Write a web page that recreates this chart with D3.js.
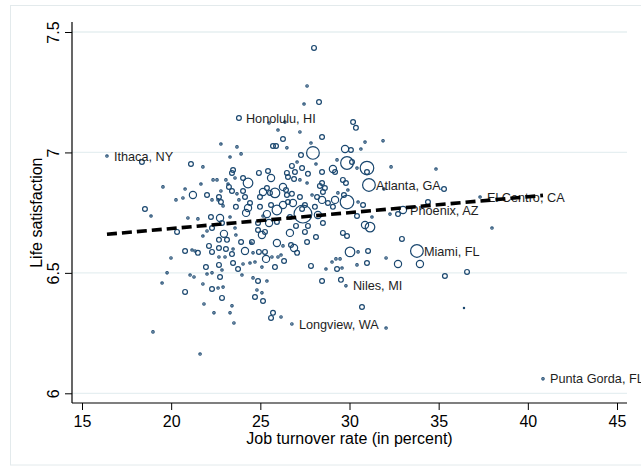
<!DOCTYPE html>
<html>
<head>
<meta charset="utf-8">
<script src="https://cdn.jsdelivr.net/npm/d3@7"></script>
<style>
  html, body { margin: 0; padding: 0; background: #fff; }
  svg { display: block; font-family: "Liberation Sans", Arial, Helvetica, sans-serif; }
</style>
</head>
<body>
<svg id="chart" width="641" height="466"></svg>
<script>
// Metro areas: [job turnover rate %, mean life satisfaction, population weight, optional label]
const metros = [
  [28.01, 7.434, 4], [27.62, 7.276, 1], [27.45, 7.201, 1], [28.29, 7.209, 4],
  [23.80, 7.143, 4, "Honolulu, HI"], [25.49, 7.122, 1], [26.38, 7.126, 1], [25.99, 7.093, 1],
  [27.22, 7.085, 1], [30.20, 7.126, 4], [30.36, 7.102, 4], [26.27, 7.056, 4],
  [25.71, 7.027, 4], [25.88, 7.027, 4], [26.49, 7.019, 1], [27.84, 7.039, 1],
  [28.46, 7.064, 4], [22.79, 7.035, 1], [23.69, 7.023, 1], [23.92, 6.994, 1],
  [23.30, 6.981, 1], [16.40, 6.985, 1, "Ithaca, NY"], [18.36, 6.960, 4], [21.11, 6.952, 4],
  [27.95, 6.998, 28], [27.28, 6.989, 4], [29.75, 7.014, 9], [30.08, 7.010, 4],
  [30.64, 7.014, 1], [30.87, 7.043, 1], [31.88, 7.048, 1],

  [21.78, 6.940, 1], [23.47, 6.927, 4], [23.41, 6.915, 4], [24.92, 6.915, 4],
  [25.43, 6.923, 4], [25.60, 6.894, 9], [24.31, 6.873, 16], [23.58, 6.894, 1],
  [22.35, 6.886, 1], [22.57, 6.886, 1], [23.07, 6.886, 1], [23.19, 6.869, 1],
  [23.24, 6.857, 4], [23.41, 6.840, 4], [24.03, 6.840, 4], [21.67, 6.869, 1],
  [20.78, 6.848, 1], [19.54, 6.857, 1], [21.22, 6.823, 9], [22.01, 6.823, 4],
  [22.79, 6.840, 1], [22.68, 6.815, 4], [22.63, 6.803, 1], [22.29, 6.803, 1],
  [20.66, 6.811, 1], [20.27, 6.803, 1], [22.79, 6.794, 4], [23.69, 6.828, 1],
  [24.14, 6.815, 4], [24.42, 6.790, 4], [23.80, 6.803, 1], [23.63, 6.774, 4],
  [24.31, 6.769, 9], [22.91, 6.778, 1], [24.98, 6.815, 4], [25.15, 6.836, 9],
  [25.54, 6.832, 4], [25.82, 6.832, 16], [25.37, 6.852, 4], [24.98, 6.774, 4],
  [25.60, 6.782, 4], [24.03, 6.894, 4], [18.53, 6.765, 4], [18.87, 6.736, 1],
  [25.93, 6.761, 16],

  [29.30, 6.969, 1], [29.86, 6.956, 28], [30.14, 6.960, 4], [30.98, 6.935, 32],
  [30.98, 6.919, 4], [30.42, 6.935, 1], [29.07, 6.931, 9], [29.19, 6.919, 4],
  [28.12, 6.952, 1], [28.46, 6.919, 4], [26.77, 6.944, 4], [27.06, 6.960, 1],
  [27.34, 6.935, 4], [26.94, 6.919, 4], [26.49, 6.915, 4], [26.55, 6.898, 4],
  [27.67, 6.911, 4], [26.89, 6.890, 4], [27.22, 6.886, 1], [27.62, 6.873, 1],
  [28.46, 6.873, 4], [28.34, 6.861, 4], [29.63, 6.886, 4], [31.09, 6.865, 28, "Atlanta, GA"],
  [29.91, 6.844, 1], [29.80, 6.873, 4], [26.27, 6.857, 9], [26.44, 6.844, 4],
  [26.49, 6.823, 4], [26.77, 6.828, 4], [27.22, 6.815, 4], [27.90, 6.823, 1],
  [28.18, 6.815, 4], [28.51, 6.836, 4], [28.46, 6.803, 9], [28.62, 6.852, 4],
  [29.35, 6.832, 1], [29.86, 6.794, 32], [29.69, 6.823, 4], [26.55, 6.794, 4],
  [26.83, 6.790, 9], [26.27, 6.782, 9], [27.50, 6.782, 4], [28.06, 6.774, 4],
  [28.79, 6.790, 4], [29.07, 6.774, 4], [30.48, 6.794, 1], [30.76, 6.782, 4],
  [27.34, 6.765, 4], [29.19, 6.803, 9],

  [32.33, 6.940, 1], [34.85, 6.931, 1], [31.93, 6.848, 1], [35.30, 6.848, 4],
  [34.40, 6.794, 4], [37.32, 6.815, 1, "El Centro, CA"], [33.00, 6.761, 9, "Phoenix, AZ"], [32.72, 6.744, 4],
  [32.27, 6.744, 1], [37.99, 6.686, 1],

  [20.94, 6.728, 1], [21.50, 6.724, 1], [22.23, 6.732, 4], [22.74, 6.728, 9],
  [22.85, 6.707, 4], [23.30, 6.732, 1], [24.20, 6.749, 9], [25.15, 6.736, 1],
  [25.49, 6.707, 9], [25.37, 6.744, 9], [24.87, 6.707, 4], [25.93, 6.711, 4],
  [22.29, 6.686, 4], [22.01, 6.674, 1], [21.78, 6.653, 1], [22.96, 6.662, 9],
  [22.68, 6.637, 4], [23.13, 6.637, 4], [23.92, 6.628, 4], [24.53, 6.628, 4],
  [24.87, 6.678, 4], [25.09, 6.657, 9], [25.26, 6.670, 4], [25.93, 6.624, 9],
  [23.58, 6.686, 1], [23.63, 6.657, 1], [22.12, 6.612, 4], [22.68, 6.603, 4],
  [23.07, 6.599, 4], [23.47, 6.599, 1], [24.48, 6.624, 1], [20.78, 6.591, 4],
  [21.17, 6.595, 1], [21.34, 6.591, 1], [21.50, 6.583, 4], [22.29, 6.587, 4],
  [23.41, 6.578, 4], [24.14, 6.591, 9], [24.59, 6.583, 1], [24.92, 6.587, 4],
  [25.26, 6.587, 4], [25.32, 6.558, 9], [25.65, 6.566, 1], [22.68, 6.566, 1],
  [23.02, 6.566, 1], [23.47, 6.541, 4], [24.03, 6.537, 1], [24.42, 6.541, 1],
  [23.75, 6.516, 4], [24.70, 6.545, 1], [25.09, 6.524, 1], [25.99, 6.566, 1],
  [21.95, 6.524, 4], [22.29, 6.500, 1], [22.01, 6.495, 1], [21.06, 6.491, 1],
  [21.28, 6.483, 1], [22.74, 6.483, 4], [21.78, 6.454, 1], [23.97, 6.491, 1],
  [24.59, 6.479, 1], [24.87, 6.466, 4], [25.37, 6.466, 1], [22.91, 6.441, 1],
  [22.63, 6.437, 1], [22.29, 6.433, 4], [20.78, 6.421, 4], [22.85, 6.396, 4],
  [24.81, 6.429, 1], [24.70, 6.400, 4], [25.09, 6.417, 1], [20.33, 6.670, 4],
  [19.99, 6.562, 1], [19.77, 6.500, 1], [19.49, 6.458, 1], [22.68, 6.533, 4],
  [22.85, 6.512, 1], [25.82, 6.524, 4],

  [27.39, 6.744, 55], [28.23, 6.740, 9], [26.66, 6.732, 4], [27.00, 6.695, 4],
  [26.66, 6.666, 9], [27.50, 6.670, 4], [28.12, 6.649, 4], [27.67, 6.695, 4],
  [28.51, 6.707, 4], [31.15, 6.690, 16], [30.87, 6.699, 9], [30.42, 6.736, 4],
  [31.26, 6.732, 1], [29.63, 6.666, 4], [29.86, 6.653, 4], [27.62, 6.628, 4],
  [26.89, 6.603, 9], [26.72, 6.616, 4], [27.06, 6.583, 4], [26.27, 6.612, 1],
  [26.33, 6.549, 4], [30.03, 6.587, 16], [30.48, 6.587, 1], [31.04, 6.591, 4],
  [29.02, 6.545, 1], [29.24, 6.558, 1], [29.47, 6.558, 1], [27.84, 6.529, 4],
  [29.30, 6.516, 4], [29.58, 6.520, 1], [28.68, 6.516, 1], [30.42, 6.533, 1],
  [30.98, 6.541, 4], [28.46, 6.466, 4], [29.52, 6.471, 4], [29.80, 6.446, 1, "Niles, MI"],
  [26.16, 6.574, 1],

  [32.94, 6.641, 4], [32.05, 6.562, 1], [33.78, 6.591, 28, "Miami, FL"], [33.95, 6.537, 9],
  [32.72, 6.537, 9], [30.70, 6.358, 4], [32.05, 6.271, 1], [36.42, 6.354, 0.3],
  [35.35, 6.487, 4], [36.59, 6.504, 4], [40.85, 6.060, 1, "Punta Gorda, FL"],

  [21.84, 6.371, 1], [23.41, 6.363, 1], [22.40, 6.334, 1], [23.30, 6.334, 1],
  [23.52, 6.292, 1], [25.15, 6.383, 4], [25.71, 6.334, 4], [25.60, 6.313, 4],
  [26.16, 6.317, 1], [26.77, 6.288, 1, "Longview, WA"], [21.62, 6.163, 1], [18.98, 6.255, 1]
];

const turnoverTicks = [15, 20, 25, 30, 35, 40, 45];
const satisfactionTicks = [6, 6.5, 7, 7.5];

// Weighted linear fit: satisfaction = intercept + slope * turnover
const fitIntercept = 6.552;
const fitSlope = 0.0066;

const xTitle = "Job turnover rate (in percent)";
const yTitle = "Life satisfaction";

const navy = "#1a476f";
const svg = d3.select("#chart");

const x = d3.scaleLinear().domain([15, 45]).range([82, 617]);
const y = d3.scaleLinear().domain([6, 7.5]).range([393.3, 32]);
const r = d3.scaleSqrt().domain([0, 55]).range([0, 8.9]);

// plot region extends a little beyond the axis ranges
const plotLeft = 72, plotRight = 627, plotTop = 22, plotBottom = 403;

// outer graph region border
svg.append("rect")
  .attr("x", 10.5).attr("y", 5.5)
  .attr("width", 660).attr("height", 459.5)
  .attr("fill", "#fff")
  .attr("stroke", "#e3eaec")
  .attr("stroke-width", 1);

// horizontal gridlines
svg.append("g").selectAll("line")
  .data(satisfactionTicks)
  .join("line")
  .attr("x1", plotLeft).attr("x2", plotRight)
  .attr("y1", d => y(d)).attr("y2", d => y(d))
  .attr("stroke", "#e6eff1")
  .attr("stroke-width", 1.3);

// y axis
const yAxis = svg.append("g")
  .attr("transform", `translate(${plotLeft},0)`)
  .call(d3.axisLeft(y).tickValues(satisfactionTicks).tickSize(7).tickFormat(d => String(d)));
yAxis.select(".domain").remove();
yAxis.selectAll(".tick line").attr("stroke", "#000").attr("stroke-width", 1);
yAxis.selectAll(".tick text")
  .attr("x", null).attr("dy", null)
  .attr("transform", "translate(-13,0) rotate(-90)")
  .attr("text-anchor", "middle")
  .attr("font-size", 16)
  .attr("font-family", "Liberation Sans, Arial, sans-serif")
  .attr("fill", "#000");
yAxis.append("line")
  .attr("x1", 0).attr("x2", 0)
  .attr("y1", plotTop).attr("y2", plotBottom)
  .attr("stroke", "#000").attr("stroke-width", 1.2);

// x axis
const xAxis = svg.append("g")
  .attr("transform", `translate(0,${plotBottom})`)
  .call(d3.axisBottom(x).tickValues(turnoverTicks).tickSize(7).tickFormat(d => String(d)));
xAxis.select(".domain").remove();
xAxis.selectAll(".tick line").attr("stroke", "#000").attr("stroke-width", 1);
xAxis.selectAll(".tick text")
  .attr("y", 23.5).attr("dy", null)
  .attr("font-size", 16)
  .attr("font-family", "Liberation Sans, Arial, sans-serif")
  .attr("fill", "#000");
xAxis.append("line")
  .attr("x1", plotLeft).attr("x2", plotRight)
  .attr("y1", 0).attr("y2", 0)
  .attr("stroke", "#000").attr("stroke-width", 1.2);

// axis titles
svg.append("text")
  .attr("x", (plotLeft + plotRight) / 2)
  .attr("y", 444)
  .attr("text-anchor", "middle")
  .attr("font-size", 16)
  .attr("fill", "#000")
  .text(xTitle);

svg.append("text")
  .attr("transform", `translate(42,${(y(6) + y(7.5)) / 2}) rotate(-90)`)
  .attr("text-anchor", "middle")
  .attr("font-size", 16)
  .attr("fill", "#000")
  .text(yTitle);

// hollow weighted markers
svg.append("g").selectAll("circle")
  .data(metros)
  .join("circle")
  .attr("cx", d => x(d[0]))
  .attr("cy", d => y(d[1]))
  .attr("r", d => r(d[2]))
  .attr("fill", "none")
  .attr("stroke", navy)
  .attr("stroke-width", 1.2);

// city labels
svg.append("g").selectAll("text")
  .data(metros.filter(d => d[3]))
  .join("text")
  .attr("x", d => x(d[0]) + 7)
  .attr("y", d => y(d[1]))
  .attr("dy", "0.36em")
  .attr("font-size", 12.7)
  .attr("fill", "#1e1e1e")
  .text(d => d[3]);

// dashed fit line across the observed turnover range
const xExtent = d3.extent(metros, d => d[0]);
svg.append("path")
  .datum(xExtent)
  .attr("d", d3.line()
    .x(d => x(d))
    .y(d => y(fitIntercept + fitSlope * d)))
  .attr("fill", "none")
  .attr("stroke", "#000")
  .attr("stroke-width", 3.6)
  .attr("stroke-dasharray", "10,5");
</script>
</body>
</html>
